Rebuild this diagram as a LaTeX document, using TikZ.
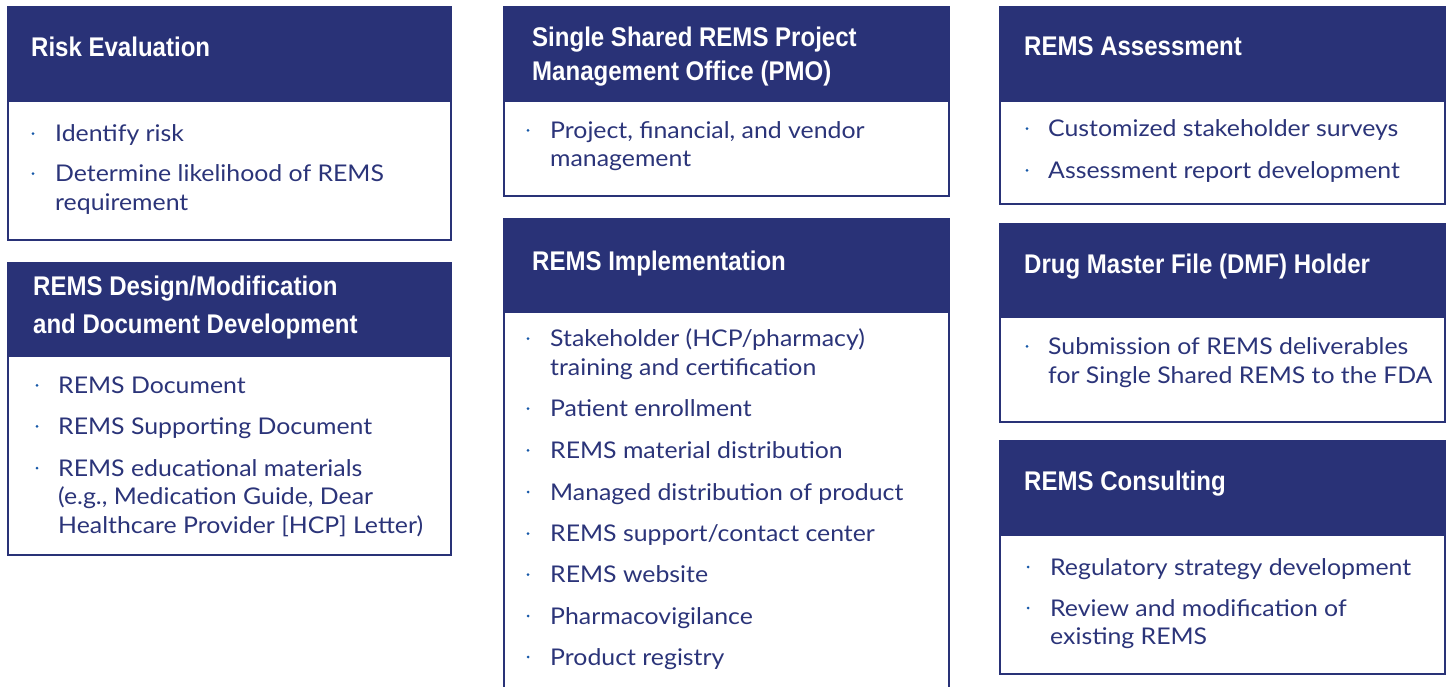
\documentclass[tikz,border=0pt]{standalone}
\usepackage{fontspec}
\setmainfont[FakeStretch=1.08]{Lato}
\newfontfamily\headfont[FakeStretch=0.89]{Liberation Sans}
\usepackage{tikz}
\usepackage{xcolor}

\tikzset{
	headtext/.style={anchor=base west, inner sep=0pt, align=left, text=white,
		font={\headfont\bfseries\fontsize{27}{34}\selectfont}},
	itemtext/.style={anchor=base west, inner sep=0pt, align=left, text=TEXTBLUE,
		font={\fontsize{23}{28.7}\selectfont}},
	dot/.style={circle, fill=DOTBLUE, inner sep=0pt, minimum size=3pt},
	frame/.style={draw=NAVY, line width=2pt}
}

\begin{document}
\begin{tikzpicture}[x=1pt, y=-1pt]
				\definecolor{NAVY}{RGB}{41, 50, 119}
				\definecolor{TEXTBLUE}{RGB}{43, 52, 121}
				\definecolor{DOTBLUE}{RGB}{22, 88, 168}
				\useasboundingbox (0,0) rectangle (1449,687);
				
				\begin{scope}[shift={(7,6)}]
					\fill[NAVY] (0,0) rectangle (445,96);
					\draw[frame] (1,96) -- (1,234) -- (444,234) -- (444,96);
					\node[headtext] (risk-head) at (24,50.7) {Risk Evaluation};
					\foreach \yy/\nl/\txt [count=\i] in {135.7/0/{Identify risk},
						175.7/1/{Determine likelihood of REMS\\requirement}}
						{\node[dot] (risk-dot\i) at (26,\yy-8) {};
						\node[itemtext] (risk-item\i) at (48,\yy+\nl*28.7) {\txt};}
				\end{scope}
				
				\begin{scope}[shift={(7,262)}]
					\fill[NAVY] (0,0) rectangle (445,95);
					\draw[frame] (1,95) -- (1,293) -- (444,293) -- (444,95);
					\node[headtext, font={\headfont\bfseries\fontsize{27}{37.5}\selectfont}] (design-head) at (26,71.2)
						{REMS Design/Modification\\and Document Development};
					\foreach \yy/\nl/\txt [count=\i] in {131.3/0/{REMS Document},
						172.3/0/{REMS Supporting Document},
						214/2/{REMS educational materials\\(e.g., Medication Guide, Dear\\Healthcare Provider [HCP] Letter)}}
						{\node[dot] (design-dot\i) at (30,\yy-8) {};
						\node[itemtext] (design-item\i) at (51,\yy+\nl*28.7) {\txt};}
				\end{scope}
				
				\begin{scope}[shift={(503,6)}]
					\fill[NAVY] (0,0) rectangle (447,96);
					\draw[frame] (1,96) -- (1,190) -- (446,190) -- (446,96);
					\node[headtext] (pmo-head) at (29,74.7)
						{Single Shared REMS Project\\Management Office (PMO)};
					\foreach \yy/\nl/\txt [count=\i] in {132.3/1/{Project, financial, and vendor\\management}}
						{\node[dot] (pmo-dot\i) at (25,\yy-8) {};
						\node[itemtext] (pmo-item\i) at (47,\yy+\nl*28.7) {\txt};}
				\end{scope}
				
				\begin{scope}[shift={(503,218)}]
					\fill[NAVY] (0,0) rectangle (447,95);
					\draw[frame] (1,95) -- (1,472);
					\draw[frame] (446,95) -- (446,472);
					\node[headtext] (impl-head) at (29,52) {REMS Implementation};
					\foreach \yy/\nl/\txt [count=\i] in {128.7/1/{Stakeholder (HCP/pharmacy)\\training and certification},
						198.7/0/{Patient enrollment},
						240.3/0/{REMS material distribution},
						282/0/{Managed distribution of product},
						323.7/0/{REMS support/contact center},
						364.7/0/{REMS website},
						406/0/{Pharmacovigilance},
						447/0/{Product registry}}
						{\node[dot] (impl-dot\i) at (25,\yy-8) {};
						\node[itemtext] (impl-item\i) at (47,\yy+\nl*28.7) {\txt};}
				\end{scope}
				
				\begin{scope}[shift={(999,6)}]
					\fill[NAVY] (0,0) rectangle (447,96);
					\draw[frame] (1,96) -- (1,198) -- (446,198) -- (446,96);
					\node[headtext] (assess-head) at (25,50) {REMS Assessment};
					\foreach \yy/\nl/\txt [count=\i] in {130.7/0/{Customized stakeholder surveys},
						172.3/0/{Assessment report development}}
						{\node[dot] (assess-dot\i) at (28,\yy-8) {};
						\node[itemtext] (assess-item\i) at (49,\yy+\nl*28.7) {\txt};}
				\end{scope}
				
				\begin{scope}[shift={(999,223)}]
					\fill[NAVY] (0,0) rectangle (447,95);
					\draw[frame] (1,95) -- (1,199) -- (446,199) -- (446,95);
					\node[headtext] (dmf-head) at (25,50.3) {Drug Master File (DMF) Holder};
					\foreach \yy/\nl/\txt [count=\i] in {131.3/1/{Submission of REMS deliverables\\for Single Shared REMS to the FDA}}
						{\node[dot] (dmf-dot\i) at (28,\yy-8) {};
						\node[itemtext] (dmf-item\i) at (49,\yy+\nl*28.7) {\txt};}
				\end{scope}
				
				\begin{scope}[shift={(999,440)}]
					\fill[NAVY] (0,0) rectangle (447,96);
					\draw[frame] (1,96) -- (1,234) -- (446,234) -- (446,96);
					\node[headtext] (consult-head) at (25,50) {REMS Consulting};
					\foreach \yy/\nl/\txt [count=\i] in {135/0/{Regulatory strategy development},
						176/1/{Review and modification of\\existing REMS}}
						{\node[dot] (consult-dot\i) at (29,\yy-8) {};
						\node[itemtext] (consult-item\i) at (51,\yy+\nl*28.7) {\txt};}
				\end{scope}
				
			\end{tikzpicture}
\end{document}
